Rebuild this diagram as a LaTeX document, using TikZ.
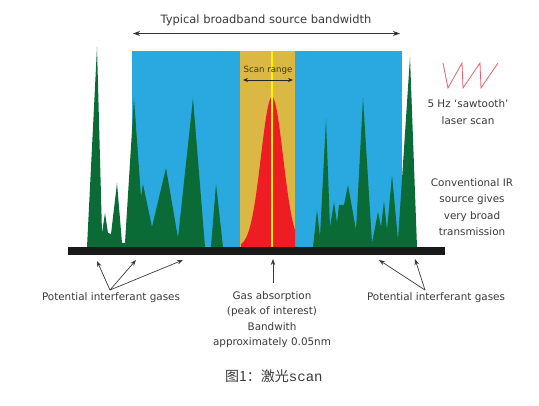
\documentclass[tikz,border=0pt]{standalone}
\usepackage{fontspec}
\setmainfont{DejaVu Sans}
\newfontfamily\cjk{Noto Sans CJK SC}
\newfontfamily\capmono{Liberation Mono}
\usetikzlibrary{arrows.meta}
\definecolor{bgblue}{HTML}{29A9E0}
\definecolor{scangold}{HTML}{DBB843}
\definecolor{peakgreen}{HTML}{0B6B37}
\definecolor{peakred}{HTML}{EE1D24}
\definecolor{lineyellow}{HTML}{FFF200}
\definecolor{txtgray}{HTML}{3A3A3A}
\definecolor{sawred}{HTML}{E8606E}
\tikzset{
  lbl/.style={text=txtgray, font=\fontsize{10.4}{15.5}\selectfont, align=center, inner sep=0pt},
  ptr/.style={draw=txtgray, line width=0.7pt, -{Stealth[length=6pt,width=4.5pt]}},
  dblarrow/.style={draw=black!80, line width=0.9pt, {Stealth[length=7pt,width=5pt]}-{Stealth[length=7pt,width=5pt]}},
}
\begin{document}
\begin{tikzpicture}[x=1pt,y=-1pt]
\useasboundingbox (0,0) rectangle (539,406);
% backgrounds
\fill[bgblue] (132,51) rectangle (402,247);
\fill[scangold] (240,51) rectangle (295,247);
% red absorption peak
\fill[peakred] (241,247) -- plot[domain=241:295, samples=80, smooth] (\x,{247-150*exp(-((\x-272)/11)^2/2)}) -- (295,247) -- cycle;
\draw[lineyellow, line width=2pt] (272,51) -- (272,247);
% green peaks left
\fill[peakgreen] (87,247) -- (97,47) -- (102,233) -- (105,213) -- (108,233) -- (111,234) -- (117,183) -- (122,243) -- (125,243) -- (134,98) -- (141,197) -- (143,184) -- (152,227) -- (166,168) -- (178,238) -- (193,98) -- (205,247) -- cycle;
\fill[peakgreen] (211,247) -- (216,184) -- (223,247) -- cycle;
% green peaks right
\fill[peakgreen] (313,247) -- (317,210) -- (320,237) -- (326,119) -- (330,227) -- (334,202) -- (337,223) -- (339,205) -- (344,205) -- (348,185) -- (356,230) -- (363,98) -- (372,243) -- (378,212) -- (381,227) -- (384,201) -- (387,230) -- (392,175) -- (398,240) -- (410,57) -- (417,247) -- cycle;
% baseline bar
\fill[black!90] (68,247) rectangle (445,255);
% top bandwidth arrow
\node[lbl, font=\fontsize{11.5}{13}\selectfont] (title) at (266,20) {Typical broadband source bandwidth};
\coordinate (bwL) at (133,33.5);
\coordinate (bwR) at (400,33.5);
\draw[dblarrow] (bwL) -- (bwR);
% scan range
\node[text=black!70!scangold, font=\fontsize{8.6}{9}\selectfont, inner sep=0pt] (scan) at (268,70) {Scan range};
\coordinate (scL) at (243,80);
\coordinate (scR) at (293,80);
\draw[draw=black!85, line width=0.9pt, {Stealth[length=5pt,width=4pt]}-{Stealth[length=5pt,width=4pt]}] (scL) -- (scR);
% sawtooth
\draw[sawred, line width=0.8pt] (443,63) -- (448,88) -- (462,63) -- (463,88) -- (480,63) -- (481,88) -- (498,63);
\node[lbl, font=\fontsize{10.4}{17}\selectfont] (saw) at (468,112) {5 Hz `sawtooth'\\laser scan};
\node[lbl, font=\fontsize{10.4}{16.3}\selectfont] (conv) at (472,207) {Conventional IR\\source gives\\very broad\\transmission};
% bottom labels
\node[lbl] (left) at (111,298) {Potential interferant gases};
\node[lbl] (right) at (436,298) {Potential interferant gases};
\node[lbl, anchor=north] (gas) at (272,291) {Gas absorption\\(peak of interest)\\Bandwith\\approximately 0.05nm};
\coordinate (lsrc) at (110,290);
\coordinate (rsrc) at (425,290);
\coordinate (gsrc) at (273,283);
\coordinate (l1) at (97,261);
\coordinate (l2) at (136,260);
\coordinate (l3) at (183,260);
\coordinate (r1) at (379,260);
\coordinate (r2) at (415,259);
\coordinate (gtip) at (273,259);
\draw[ptr] (lsrc) -- (l1);
\draw[ptr] (lsrc) -- (l2);
\draw[ptr] (lsrc) -- (l3);
\draw[ptr] (rsrc) -- (r1);
\draw[ptr] (rsrc) -- (r2);
\draw[ptr] (gsrc) -- (gtip);
% caption
\node[text=txtgray, inner sep=0pt, anchor=west] (cap) at (225,376) {\fontsize{14}{15}\selectfont\cjk 图1：激光\capmono scan};
\end{tikzpicture}
\end{document}
